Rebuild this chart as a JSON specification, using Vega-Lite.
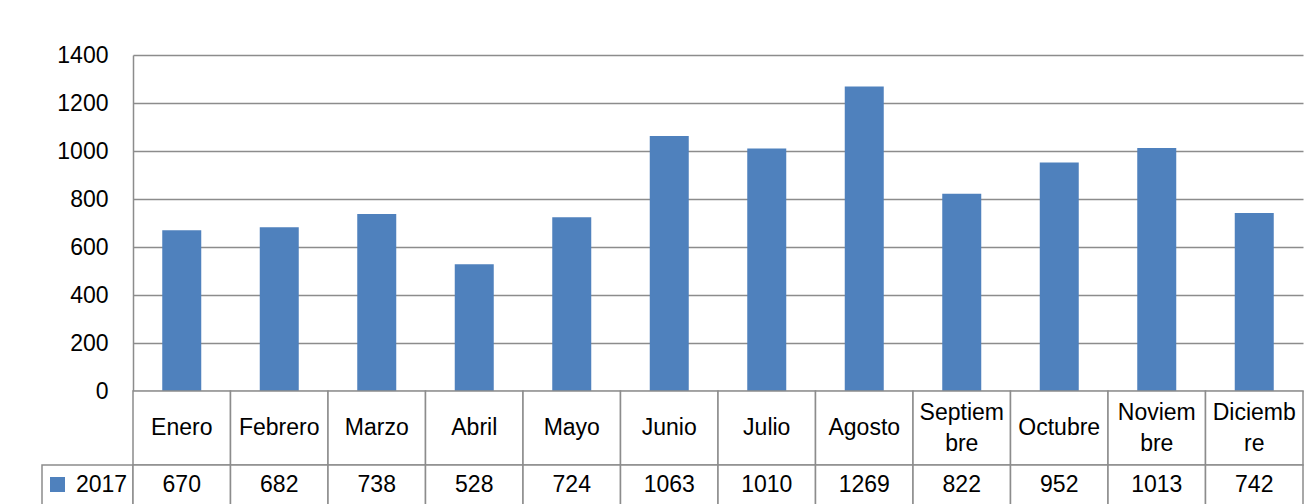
{
  "$schema": "https://vega.github.io/schema/vega-lite/v6.json",
  "padding": {"left": 41, "top": 44, "right": 0, "bottom": 0},
  "background": "white",
  "config": {
    "view": {"stroke": null},
    "font": "Liberation Sans",
    "text": {"font": "Liberation Sans", "fontSize": 23, "color": "black"},
    "axis": {"labelFont": "Liberation Sans"},
    "legend": {"labelFont": "Liberation Sans"}
  },
  "data": {
    "values": [
      {"mes": "Enero", "etiqueta": "Enero", "valor": 670, "serie": "2017"},
      {"mes": "Febrero", "etiqueta": "Febrero", "valor": 682, "serie": "2017"},
      {"mes": "Marzo", "etiqueta": "Marzo", "valor": 738, "serie": "2017"},
      {"mes": "Abril", "etiqueta": "Abril", "valor": 528, "serie": "2017"},
      {"mes": "Mayo", "etiqueta": "Mayo", "valor": 724, "serie": "2017"},
      {"mes": "Junio", "etiqueta": "Junio", "valor": 1063, "serie": "2017"},
      {"mes": "Julio", "etiqueta": "Julio", "valor": 1010, "serie": "2017"},
      {"mes": "Agosto", "etiqueta": "Agosto", "valor": 1269, "serie": "2017"},
      {"mes": "Septiembre", "etiqueta": "Septiem\nbre", "valor": 822, "serie": "2017"},
      {"mes": "Octubre", "etiqueta": "Octubre", "valor": 952, "serie": "2017"},
      {"mes": "Noviembre", "etiqueta": "Noviem\nbre", "valor": 1013, "serie": "2017"},
      {"mes": "Diciembre", "etiqueta": "Diciemb\nre", "valor": 742, "serie": "2017"}
    ]
  },
  "columns": 2,
  "spacing": 0,
  "bounds": "flush",
  "concat": [
    {
      "width": 91, "height": 336,
      "mark": {"type": "text", "text": ""},
      "encoding": {}
    },
    {
      "width": 1170, "height": 336,
      "mark": {"type": "bar", "color": "#4F81BD"},
      "encoding": {
        "x": {"field": "mes", "type": "nominal", "sort": null, "axis": null,
              "scale": {"paddingInner": 0.6, "paddingOuter": 0.3}},
        "y": {"field": "valor", "type": "quantitative",
              "scale": {"domain": [0, 1400], "nice": false},
              "axis": {"title": null, "values": [0, 200, 400, 600, 800, 1000, 1200, 1400],
                       "format": "d",
                       "ticks": false, "tickSize": 0, "labelPadding": 25,
                       "labelFontSize": 23, "labelColor": "black",
                       "domainColor": "#8c8c8c", "domainWidth": 1.5,
                       "gridColor": "#8c8c8c", "gridWidth": 1.5}},
        "color": {"field": "serie", "type": "nominal",
                  "scale": {"range": ["#4F81BD"]},
                  "legend": {"orient": "none", "legendX": 4, "legendY": 418,
                             "title": null, "padding": 0,
                             "symbolType": "square", "symbolSize": 225,
                             "symbolStrokeWidth": 0, "symbolOpacity": 1,
                             "labelFontSize": 23, "labelColor": "black",
                             "labelOffset": 7}}
      }
    },
    {
      "width": 91, "height": 74,
      "mark": {"type": "text", "text": ""},
      "encoding": {}
    },
    {
      "width": 1170, "height": 74,
      "layer": [
        {
          "mark": {"type": "rect", "fill": "white", "stroke": "#8c8c8c", "strokeWidth": 1.5},
          "encoding": {
            "x": {"field": "mes", "type": "nominal", "sort": null, "axis": null,
                  "scale": {"paddingInner": 0, "paddingOuter": 0}}
          }
        },
        {
          "transform": [{"filter": "indexof(datum.etiqueta, '\\n') < 0"}],
          "mark": {"type": "text", "baseline": "middle"},
          "encoding": {
            "x": {"field": "mes", "type": "nominal", "sort": null, "axis": null},
            "text": {"field": "etiqueta"}
          }
        },
        {
          "transform": [{"filter": "indexof(datum.etiqueta, '\\n') >= 0"}],
          "mark": {"type": "text", "lineBreak": "\n", "lineHeight": 31, "baseline": "middle", "dy": -15.5},
          "encoding": {
            "x": {"field": "mes", "type": "nominal", "sort": null, "axis": null},
            "text": {"field": "etiqueta"}
          }
        }
      ]
    },
    {
      "width": 91, "height": 40,
      "data": {"values": [{"serie": "2017"}]},
      "mark": {"type": "rect", "fill": "white", "stroke": "#8c8c8c", "strokeWidth": 1.5},
      "encoding": {}
    },
    {
      "width": 1170, "height": 40,
      "layer": [
        {
          "mark": {"type": "rect", "fill": "white", "stroke": "#8c8c8c", "strokeWidth": 1.5},
          "encoding": {
            "x": {"field": "mes", "type": "nominal", "sort": null, "axis": null,
                  "scale": {"paddingInner": 0, "paddingOuter": 0}}
          }
        },
        {
          "mark": {"type": "text", "baseline": "middle"},
          "encoding": {
            "x": {"field": "mes", "type": "nominal", "sort": null, "axis": null},
            "text": {"field": "valor"}
          }
        }
      ]
    }
  ]
}
